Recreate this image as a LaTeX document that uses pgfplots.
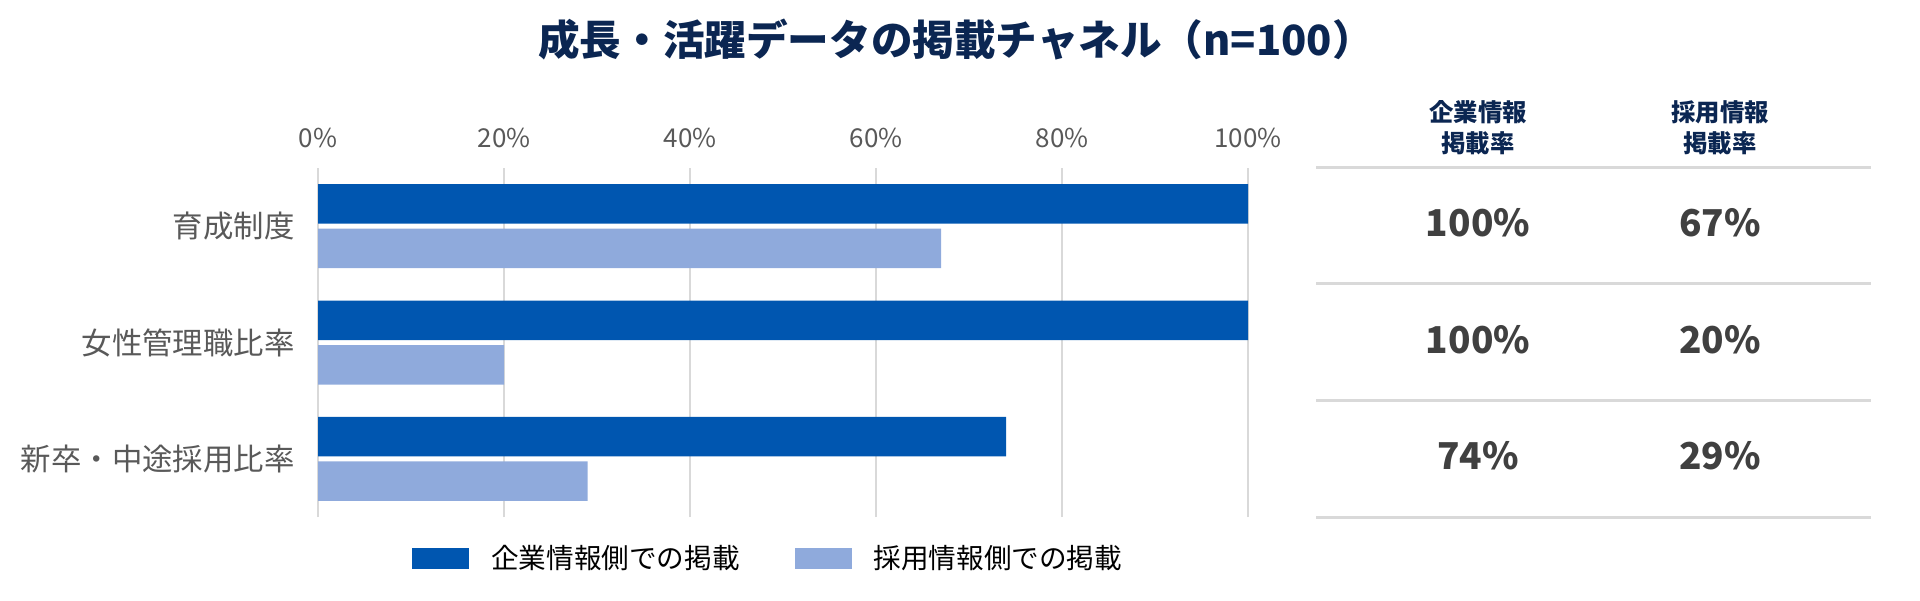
\documentclass[border=0pt]{standalone}
\usepackage{fontspec}
\setmainfont{Noto Sans CJK JP}
\usepackage{pgfplots}
\pgfplotsset{compat=1.18}
\definecolor{darkbar}{HTML}{0056B0}
\definecolor{lightbar}{HTML}{8FAADC}
\definecolor{navy}{HTML}{0B2652}
\definecolor{labelc}{HTML}{595959}
\definecolor{valc}{HTML}{404040}
\definecolor{gridc}{HTML}{D9D9D9}
\begin{document}
\begin{tikzpicture}[x=1pt,y=1pt]
\path[use as bounding box] (0,0) rectangle (960,300);
\begin{axis}[
  at={(159pt,41.5pt)}, anchor=south west,
  scale only axis, width=465pt, height=174.5pt,
  xmin=0, xmax=100, ymin=-0.5, ymax=2.5,
  ytick={0,1,2},
  yticklabels={新卒・中途採用比率,女性管理職比率,育成制度},
  xtick={0,20,40,60,80,100},
  xticklabels={0\%,20\%,40\%,60\%,80\%,100\%},
  xticklabel pos=upper,
  axis line style={draw=none},
  major tick length=0pt,
  xmajorgrids, ymajorgrids=false,
  grid style={draw=gridc, line width=1pt},
  ticklabel style={text=labelc},
  xticklabel style={font=\fontsize{13}{13}\selectfont, inner sep=0pt, anchor=center, yshift=15pt},
  yticklabel style={font=\fontsize{15.2}{15.2}\selectfont, inner sep=0pt, anchor=east, xshift=-11.5pt},
  /pgf/number format/assume math mode=true,
  legend columns=2,
  legend style={at={(axis description cs:0.101,-0.1175)}, anchor=west,
    draw=none, fill=none, inner sep=0pt,
    font=\fontsize{13.8}{13.8}\selectfont,
    nodes={inner sep=0pt, text=black},
    /tikz/every odd column/.append style={column sep=11pt},
    /tikz/every even column/.append style={column sep=27.5pt}},
]
\addplot[xbar, bar width=19.75pt, bar shift=11.125pt, fill=darkbar, draw=none,
  legend image code/.code={\fill[darkbar] (0pt,-5.25pt) rectangle (28.5pt,5.25pt);}]
  coordinates {(100,2) (100,1) (74,0)};
\addplot[xbar, bar width=19.75pt, bar shift=-11.125pt, fill=lightbar, draw=none,
  legend image code/.code={\fill[lightbar] (0pt,-5.25pt) rectangle (28.5pt,5.25pt);}]
  coordinates {(67,2) (20,1) (29,0)};
\legend{企業情報側での掲載,採用情報側での掲載}
\end{axis}
% title
\node[font=\bfseries\fontsize{20.8}{20.8}\selectfont, text=navy] at (478,280) {成長・活躍データの掲載チャネル（n=100）};
% table
\foreach \yy in {216,158,100,41.5} {
  \draw[gridc, line width=1.5pt] (658,\yy) -- (935.5,\yy);
}
\node[align=center, font=\bfseries\fontsize{12.2}{15.5}\selectfont, text=navy, inner sep=0pt] at (739,236) {企業情報\\掲載率};
\node[align=center, font=\bfseries\fontsize{12.2}{15.5}\selectfont, text=navy, inner sep=0pt] at (860,236) {採用情報\\掲載率};
\begin{scope}[every node/.style={font=\bfseries\fontsize{18.5}{18.5}\selectfont, text=valc, inner sep=0pt}]
\node at (739,188.5) {100\%};
\node at (860,188.5) {67\%};
\node at (739,130) {100\%};
\node at (860,130) {20\%};
\node at (739,72) {74\%};
\node at (860,72) {29\%};
\end{scope}
\end{tikzpicture}
\end{document}
